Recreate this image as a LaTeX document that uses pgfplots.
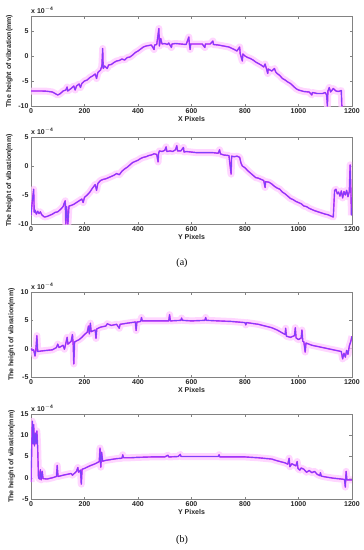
\documentclass[border=0pt]{standalone}
\usepackage{pgfplots}
\pgfplotsset{compat=1.18}
\usepackage{pgfplotstable}
\usepackage{fontspec}
\setmainfont{Liberation Sans}
\newfontfamily\serif{Liberation Serif}
\definecolor{halocol}{RGB}{255,200,255}
\definecolor{magcol}{RGB}{225,40,245}
\definecolor{viocol}{RGB}{125,65,250}
\definecolor{boxgray}{RGB}{130,130,130}

\pgfplotstableread{
x y
0 -7.0
20 -7.0
40 -7.0
60 -7.05
80 -7.2
90 -7.5
100 -7.8
110 -7.5
120 -7.0
130 -6.8
135 -6.2
137 -7.0
150 -6.5
160 -6.0
165 -6.8
170 -6.0
180 -5.6
185 -6.3
190 -5.5
200 -5.0
210 -4.8
220 -4.3
230 -4.0
240 -3.6
245 -4.5
250 -3.3
260 -2.8
265 -2.0
268 1.5
270 -2.5
275 -2.0
285 -2.5
290 -1.8
300 -1.7
310 -1.3
320 -1.0
330 -0.9
340 -0.6
350 -0.8
360 -0.3
370 -0.2
380 0.2
390 0.7
400 1.0
410 1.4
420 1.8
430 2.0
440 2.1
450 2.2
460 1.3
462 2.2
470 2.3
478 5.5
480 2.0
485 3.5
490 2.4
500 2.5
510 2.3
515 2.6
525 1.7
527 2.4
540 2.5
560 2.4
580 2.3
590 3.8
592 2.4
595 1.3
597 2.4
620 2.4
640 2.4
650 1.7
652 2.4
670 2.4
680 3.0
682 2.3
700 2.2
720 2.0
740 1.8
760 1.3
770 1.0
780 1.8
782 0.5
790 -1.0
792 0.4
800 0
810 -0.3
820 -0.5
830 -0.8
840 -1.2
850 -1.5
860 -1.8
870 -2.2
875 -1.6
880 -2.5
885 -3.5
887 -2.6
900 -3.0
910 -2.5
915 -3.2
920 -3.5
930 -3.9
940 -4.5
950 -4.8
960 -5.2
970 -5.5
980 -6.0
990 -6.5
1000 -6.8
1020 -7.1
1040 -7.2
1050 -7.8
1052 -7.3
1070 -7.5
1090 -7.5
1100 -7.3
1105 -7.8
1108 -10
1110 -7.0
1115 -6.3
1120 -7.2
1130 -6.5
1140 -7.0
1150 -7.1
1160 -6.9
1162 -10
1165 -10
}\dataA

\pgfplotstableread{
x y
0 -8.5
5 -6
10 -4
12 -8
15 -7.6
20 -8.3
25 -7.8
30 -8.2
35 -7.9
40 -8.4
50 -8.8
60 -8.7
70 -8.5
80 -8.3
90 -8.0
100 -7.9
110 -7.5
120 -7.0
125 -6.3
128 -6.0
130 -10
133 -7
138 -10
142 -6.9
150 -6.8
160 -6.6
170 -6.3
180 -6.0
190 -5.7
195 -6.3
200 -5.4
210 -5.0
220 -4.5
230 -3.8
240 -3.2
245 -4.2
250 -3.0
260 -2.5
270 -2.3
280 -2.2
290 -2.0
300 -1.8
310 -1.6
320 -1.3
330 -1.5
340 -0.9
350 -0.5
360 -0.2
370 0.2
380 0.6
390 0.8
400 1.0
410 1.3
420 1.5
430 1.6
440 1.8
450 1.9
460 2.1
470 2.0
475 0.7
477 2.2
480 2.6
490 2.5
500 2.7
505 3.3
508 2.5
520 2.6
530 2.5
540 2.8
545 3.5
548 2.6
560 2.6
570 3.2
572 2.4
580 2.5
600 2.4
620 2.3
650 2.3
680 2.3
700 2.2
705 2.8
708 2.1
720 1.9
740 1.8
748 -1.4
750 1.7
760 1.6
770 1.7
780 1.5
785 0.5
790 0.0
800 -0.3
810 -0.8
820 -1.2
830 -1.6
840 -2.0
850 -2.1
860 -2.3
870 -2.5
875 -3.7
877 -2.7
890 -2.8
900 -3.1
910 -3.5
920 -3.8
930 -4.0
940 -4.5
950 -4.8
960 -5.2
970 -5.6
980 -5.8
990 -6.1
1000 -6.3
1010 -6.5
1020 -6.9
1030 -7.0
1040 -7.3
1050 -7.5
1060 -7.7
1080 -8.0
1100 -8.3
1110 -8.4
1120 -8.6
1130 -8.8
1135 -4.2
1140 -4.0
1145 -4.8
1150 -4.5
1155 -5.2
1160 -4.3
1165 -5.5
1170 -4.4
1175 -5.0
1180 -4.2
1185 -5.3
1190 -4.4
1193 0.2
1196 -4.5
1198 -8.5
}\dataB

\pgfplotstableread{
x y
0 0
5 -0.3
10 -0.2
15 -1.3
18 -0.3
22 2.3
25 -0.5
40 -0.4
60 -0.3
80 -0.2
95 0.2
100 0.8
105 0.2
120 0.6
125 -0.1
130 0.9
135 2.0
138 0.8
150 1.3
155 2.5
158 0.5
160 -2.7
163 1.2
180 1.6
190 2.0
200 2.5
210 2.9
215 4.0
218 2.6
222 4.5
225 3.0
240 3.3
243 1.8
246 3.5
260 3.8
280 4.0
285 4.4
300 4.1
320 4.3
330 3.6
333 4.3
360 4.5
390 4.7
393 3.2
396 4.7
410 4.8
413 5.5
416 4.9
450 4.9
500 4.9
515 4.9
518 6.0
521 4.9
560 5.0
563 5.4
566 5.0
600 4.9
650 5.0
653 5.5
656 5.0
700 4.9
750 4.8
800 4.6
803 4.2
806 4.6
850 4.3
900 3.7
920 3.3
950 2.5
952 3.6
955 2.2
970 2.0
985 2.3
988 3.7
991 1.9
1000 1.6
1010 1.9
1013 3.3
1016 1.3
1020 1.2
1025 -0.6
1028 1.0
1050 0.6
1100 0.1
1130 -0.2
1150 -0.4
1160 -0.5
1165 -1.8
1170 -0.8
1175 -1.5
1180 -0.3
1185 -1.0
1190 0.5
1195 1.2
1200 2.2
}\dataC

\pgfplotstableread{
x y
0 -1
3 8
5 13.3
8 8
10 12.5
13 7.5
16 10.5
19 8
22 11
25 7
28 0
32 -0.3
35 1.9
38 -0.5
42 1.5
45 -0.2
60 -0.3
80 0
95 0.3
98 2.9
101 0.3
120 0.6
150 1.0
155 0.6
170 1.5
175 2.4
178 1.3
185 1.8
188 -1.5
191 2.0
200 2.2
220 2.8
240 3.3
255 3.8
258 7.0
261 2.5
264 6.0
268 3.9
280 4.1
300 4.3
320 4.5
340 4.6
343 5.4
346 4.7
370 4.7
400 4.8
450 4.9
500 4.9
512 5.3
515 4.9
550 5.0
558 5.5
561 5.0
600 5.0
650 5.0
700 5.0
703 5.4
706 4.9
750 4.9
800 4.9
850 4.7
900 4.4
920 4.0
950 3.5
960 3.2
965 4.6
968 2.6
975 3.3
990 2.8
995 3.8
998 2.2
1005 1.8
1010 2.3
1020 2.0
1030 1.3
1040 1.7
1050 1.2
1060 1.5
1070 0.8
1080 0.5
1082 1.2
1085 0.4
1100 0.2
1130 -0.1
1160 -0.3
1172 -0.4
1175 -2.2
1178 1.5
1181 -0.5
1190 -0.5
1200 -0.5
}\dataD

\pgfplotsset{
  panel/.style={
    scale only axis, width=321pt,
    anchor=north west,
    xmin=0, xmax=1200,
    xtick={0,200,...,1200},
    tick align=inside,
    major tick length=2.5pt,
    axis line style={boxgray, line width=0.5pt},
    every tick/.style={boxgray, line width=0.4pt},
    /pgf/number format/assume math mode=true,
    /pgf/number format/1000 sep={},
    tick label style={font=\bfseries\fontsize{7}{8}\selectfont, text=black!85},
    label style={font=\bfseries\fontsize{7}{8}\selectfont, text=black!85},
    ylabel={The height of vibration(mm)},
    ylabel style={at={(ticklabel cs:0.5)}, anchor=south, yshift=-1pt},
    xlabel style={yshift=4pt},
    yticklabel style={xshift=1pt},
    xticklabel style={yshift=1pt},
    clip=true,
  },
  halostyle/.style={halocol, line width=7pt, line join=round, line cap=butt, opacity=0.75, no marks},
  magstyle/.style={magcol, line width=1.4pt, line join=round, no marks},
  viostyle/.style={viocol, line width=0.9pt, line join=round, no marks},
}

\begin{document}
\begin{tikzpicture}
\useasboundingbox (0,0) rectangle (364pt,-550pt);

\begin{axis}[panel, at={(31pt,-16pt)}, height=90pt,
  ymin=-10, ymax=8, ytick={-10,-5,0,5}, xlabel={X Pixels}]
\addplot[halostyle] table {\dataA};
\addplot[magstyle] table {\dataA};
\addplot[viostyle] table {\dataA};
\end{axis}
\node[anchor=south west, font=\bfseries\fontsize{7}{8}\selectfont, text=black!85, inner sep=0pt] at (31pt,-14pt) {x 10$^{\mathbf{-4}}$};

\begin{axis}[panel, at={(31pt,-137pt)}, height=87pt,
  ymin=-10, ymax=5, ytick={-10,-5,0,5}, xlabel={Y Pixels}]
\addplot[halostyle] table {\dataB};
\addplot[magstyle] table {\dataB};
\addplot[viostyle] table {\dataB};
\end{axis}
\node[anchor=south west, font=\bfseries\fontsize{7}{8}\selectfont, text=black!85, inner sep=0pt] at (31pt,-135pt) {x 10$^{\mathbf{-4}}$};

\node[font=\serif\fontsize{10}{12}\selectfont] at (182pt,-263pt) {(a)};

\begin{axis}[panel, at={(31pt,-292pt)}, height=85pt,
  ymin=-5, ymax=10, ytick={-5,0,5,10}, xlabel={X Pixels}]
\addplot[halostyle] table {\dataC};
\addplot[magstyle] table {\dataC};
\addplot[viostyle] table {\dataC};
\end{axis}
\node[anchor=south west, font=\bfseries\fontsize{7}{8}\selectfont, text=black!85, inner sep=0pt] at (31pt,-290pt) {x 10$^{\mathbf{-4}}$};

\begin{axis}[panel, at={(31pt,-414pt)}, height=85pt,
  ymin=-5, ymax=15, ytick={-5,0,5,10,15}, xlabel={Y Pixels}]
\addplot[halostyle] table {\dataD};
\addplot[magstyle] table {\dataD};
\addplot[viostyle] table {\dataD};
\end{axis}
\node[anchor=south west, font=\bfseries\fontsize{7}{8}\selectfont, text=black!85, inner sep=0pt] at (31pt,-412pt) {x 10$^{\mathbf{-4}}$};

\node[font=\serif\fontsize{10}{12}\selectfont] at (182pt,-540pt) {(b)};
\end{tikzpicture}
\end{document}
